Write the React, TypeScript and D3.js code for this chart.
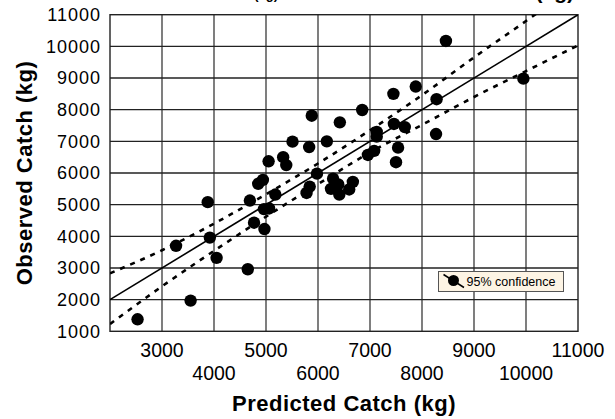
import React, { useEffect, useRef } from 'react'
import * as d3 from 'd3'

// predicted vs observed catch (kg)
const predicted = [
  2530, 3550, 4650, 3270, 3920, 4050, 3880, 4690, 4770, 4970,
  4960, 5060, 5180, 4850, 4940, 5050, 5330, 5390, 5510, 5830,
  5880, 5980, 5840, 5780, 6170, 6420, 6850, 6290, 6250, 6390,
  6410, 6600, 6670, 6960, 7080, 7130, 7130, 7540, 7500, 7460,
  7670, 7450, 7880, 8280, 8270, 8460, 9950
]
const observed = [
  1380, 1970, 2960, 3700, 3960, 3320, 5080, 5130, 4430, 4230,
  4860, 4880, 5320, 5660, 5780, 6370, 6500, 6250, 6990, 6820,
  7810, 5980, 5570, 5370, 7000, 7600, 7990, 5820, 5500, 5640,
  5320, 5480, 5720, 6570, 6700, 7300, 7150, 6800, 6340, 7550,
  7450, 8500, 8730, 8330, 7230, 10170, 8980
]

// 1:1 line and 95% confidence band
const fitX = [2000, 11000]
const fitY = [2000, 11000]
const bandX = [2000, 3000, 4000, 5000, 6000, 7000, 8000, 9000, 10000, 11000]
const upperBand = [2830, 3560, 4400, 5330, 6300, 7350, 8460, 9650, 10800, 11980]
const lowerBand = [1230, 2420, 3540, 4620, 5650, 6650, 7520, 8400, 9220, 10030]

const xTicks = [3000, 4000, 5000, 6000, 7000, 8000, 9000, 10000, 11000]
const yTicks = [1000, 2000, 3000, 4000, 5000, 6000, 7000, 8000, 9000, 10000, 11000]

const xLabel = 'Predicted Catch (kg)'
const yLabel = 'Observed Catch (kg)'
const legendLabel = '95% confidence'

const W = 615
const H = 419
const margin = { top: 14.7, right: 37, bottom: 87.7, left: 110 }
const FONT = '"Liberation Sans", Arial, Helvetica, sans-serif'

export default function App () {
  const ref = useRef<SVGSVGElement>(null)

  useEffect(() => {
    const width = W - margin.left - margin.right
    const height = H - margin.top - margin.bottom

    const root = d3.select(ref.current)
    root.selectAll('*').remove()

    // bits of the panel above, cut off by the top edge
    root.append('text')
      .attr('x', 278).attr('y', -1)
      .attr('text-anchor', 'end')
      .attr('font-family', FONT).attr('font-weight', 'bold').attr('font-size', 13)
      .text('(kg)')
    root.append('text')
      .attr('x', 574).attr('y', -1)
      .attr('text-anchor', 'end')
      .attr('font-family', FONT).attr('font-weight', 'bold').attr('font-size', 21)
      .text('(kg)')

    const svg = root.append('g')
      .attr('transform', 'translate(' + margin.left + ',' + margin.top + ')')

    const x = d3.scaleLinear().domain([2000, 11000]).range([0, width])
    const y = d3.scaleLinear().domain([1000, 11000]).range([height, 0])

    svg.append('clipPath').attr('id', 'plot-clip')
      .append('rect').attr('width', width).attr('height', height)

    // grid
    svg.append('g')
      .selectAll('line')
      .data(xTicks.slice(0, -1))
      .join('line')
      .attr('x1', d => x(d)).attr('x2', d => x(d))
      .attr('y1', 0).attr('y2', height)
      .attr('stroke', '#3a3a3a').attr('stroke-width', 1.3)
    svg.append('g')
      .selectAll('line')
      .data(yTicks.slice(1, -1))
      .join('line')
      .attr('x1', 0).attr('x2', width)
      .attr('y1', d => y(d)).attr('y2', d => y(d))
      .attr('stroke', '#222').attr('stroke-width', 1.3)
    svg.append('rect')
      .attr('width', width).attr('height', height)
      .attr('fill', 'none').attr('stroke', '#222').attr('stroke-width', 1.4)

    // y tick labels
    svg.append('g')
      .selectAll('text')
      .data(yTicks)
      .join('text')
      .attr('x', -9)
      .attr('y', d => y(d) + 6.3)
      .attr('text-anchor', 'end')
      .attr('font-family', FONT).attr('font-size', 18)
      .attr('letter-spacing', 1)
      .text(d => String(d))

    // x tick labels, staggered over two rows
    svg.append('g')
      .selectAll('text')
      .data(xTicks)
      .join('text')
      .attr('x', d => x(d))
      .attr('y', (d, i) => height + (i % 2 === 0 ? 26 : 49))
      .attr('text-anchor', 'middle')
      .attr('font-family', FONT).attr('font-size', 19.5)
      .text(d => String(d))

    // axis titles
    svg.append('text')
      .attr('x', width / 2).attr('y', height + 80)
      .attr('text-anchor', 'middle')
      .attr('font-family', FONT).attr('font-weight', 'bold').attr('font-size', 22)
      .attr('letter-spacing', 0.5)
      .text(xLabel)
    svg.append('text')
      .attr('transform', 'translate(' + (32 - margin.left) + ',' + height / 2 + ') rotate(-90)')
      .attr('text-anchor', 'middle')
      .attr('font-family', FONT).attr('font-weight', 'bold').attr('font-size', 22)
      .attr('letter-spacing', 0.5)
      .text(yLabel)

    const lines = svg.append('g').attr('clip-path', 'url(#plot-clip)')

    const bandLine = d3.line<number>()
      .x((d, i) => x(bandX[i]))
      .y(d => y(d))
      .curve(d3.curveMonotoneX)

    lines.selectAll('path.band')
      .data([upperBand, lowerBand])
      .join('path')
      .attr('class', 'band')
      .attr('fill', 'none')
      .attr('stroke', '#000')
      .attr('stroke-width', 2.6)
      .attr('stroke-dasharray', '5,6')
      .attr('d', d => bandLine(d))

    lines.append('path')
      .datum(fitX.map((d, i) => [d, fitY[i]]))
      .attr('fill', 'none')
      .attr('stroke', '#000')
      .attr('stroke-width', 1.6)
      .attr('d', d3.line<number[]>().x(d => x(d[0])).y(d => y(d[1])))

    // points
    svg.append('g')
      .selectAll('circle')
      .data(predicted.map((d, i) => [d, observed[i]]))
      .join('circle')
      .attr('cx', d => x(d[0]))
      .attr('cy', d => y(d[1]))
      .attr('r', 6.2)
      .attr('fill', '#000')

    // legend
    const legend = root.append('g').attr('transform', 'translate(438,271)')
    legend.append('rect')
      .attr('x', 0.5).attr('y', 0.5)
      .attr('width', 125).attr('height', 20)
      .attr('fill', '#fdf4e4').attr('stroke', '#555').attr('stroke-width', 1)
    legend.append('circle')
      .attr('cx', 15.5).attr('cy', 9.5).attr('r', 5.5).attr('fill', '#000')
    legend.append('line')
      .attr('x1', 5.5).attr('y1', 3.5).attr('x2', 26).attr('y2', 16.5)
      .attr('stroke', '#000').attr('stroke-width', 1.5)
    legend.append('text')
      .attr('x', 28.5).attr('y', 15)
      .attr('font-family', FONT).attr('font-size', 12.5)
      .text(legendLabel)
  }, [])

  return (
    <svg ref={ref} width={W} height={H}
      style={{ position: 'absolute', left: 0, top: 0, background: '#fff' }} />
  )
}
